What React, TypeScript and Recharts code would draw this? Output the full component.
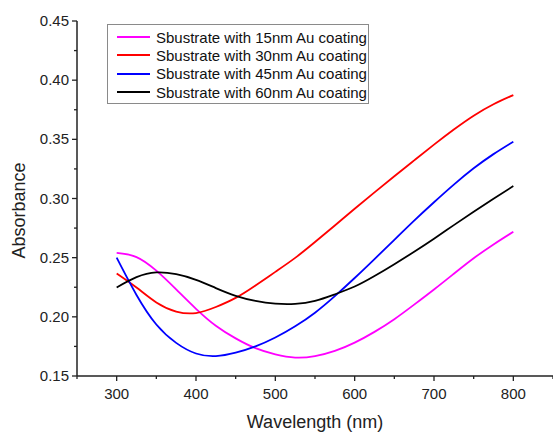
import { LineChart, Line, XAxis, YAxis, usePlotArea } from "recharts";

const wavelengths = [
  300, 325, 350, 375, 400, 425, 450, 475, 500, 525, 550, 575, 600, 625, 650, 675, 700, 725, 750, 775, 800,
];

const au15 = [
  0.254, 0.2505, 0.239, 0.2232, 0.2068, 0.1925, 0.1818, 0.1735, 0.1683, 0.1656, 0.1668, 0.1712, 0.1782,
  0.1873, 0.198, 0.2103, 0.2231, 0.2364, 0.2495, 0.2612, 0.2719,
];
const au30 = [
  0.2367, 0.2248, 0.2122, 0.2045, 0.2032, 0.2083, 0.216, 0.2265, 0.238, 0.2498, 0.2632, 0.2772, 0.2913,
  0.3052, 0.3188, 0.3322, 0.3455, 0.3583, 0.37, 0.3797, 0.3874,
];
const au45 = [
  0.25, 0.2185, 0.1935, 0.178, 0.169, 0.1668, 0.1697, 0.175, 0.1825, 0.192, 0.2035, 0.2175, 0.2328, 0.2488,
  0.2651, 0.2813, 0.2968, 0.3117, 0.3255, 0.3375, 0.348,
];
const au60 = [
  0.2248, 0.2335, 0.2375, 0.236, 0.2313, 0.2243, 0.2178, 0.2135, 0.2112, 0.211, 0.2135, 0.219, 0.2256,
  0.2345, 0.2445, 0.255, 0.266, 0.2775, 0.2888, 0.2998, 0.3105,
];

const xTicks = [250, 300, 350, 400, 450, 500, 550, 600, 650, 700, 750, 800, 850];
const yTicks = [0.15, 0.175, 0.2, 0.225, 0.25, 0.275, 0.3, 0.325, 0.35, 0.375, 0.4, 0.425, 0.45];

const series = [
  { key: "a15", name: "Sbustrate with 15nm Au coating", color: "#ff00ff" },
  { key: "a30", name: "Sbustrate with 30nm Au coating", color: "#ff0000" },
  { key: "a45", name: "Sbustrate with 45nm Au coating", color: "#0000ff" },
  { key: "a60", name: "Sbustrate with 60nm Au coating", color: "#000000" },
];

const rows = wavelengths.map((wl, i) => ({
  wl,
  a15: au15[i],
  a30: au30[i],
  a45: au45[i],
  a60: au60[i],
}));

const FONT = "'Liberation Sans', Arial, sans-serif";
const AXIS = "#222";

function XTick({ x, y, payload }: any) {
  const major = payload.value % 100 === 0;
  return (
    <g>
      <line x1={x} x2={x} y1={y} y2={y + (major ? 5 : 3)} stroke={AXIS} strokeWidth={1.3} />
      {major && (
        <text x={x} y={y + 23} textAnchor="middle" fontSize={15} fontFamily={FONT} fill={AXIS}>
          {payload.value}
        </text>
      )}
    </g>
  );
}

function YTick({ x, y, payload }: any) {
  const major = Math.round(payload.value * 1000) % 50 === 0;
  return (
    <g>
      <line x1={x - (major ? 5 : 3)} x2={x} y1={y} y2={y} stroke={AXIS} strokeWidth={1.3} />
      {major && (
        <text x={x - 8} y={y + 5} textAnchor="end" fontSize={15} fontFamily={FONT} fill={AXIS}>
          {payload.value.toFixed(2)}
        </text>
      )}
    </g>
  );
}

function AxisTitles() {
  const plot = usePlotArea();
  if (!plot) return null;
  const cx = plot.x + plot.width / 2;
  const cy = plot.y + plot.height / 2 + 12;
  return (
    <g fontFamily={FONT} fontSize={18} fill={AXIS}>
      <text x={cx} y={428} textAnchor="middle">
        Wavelength (nm)
      </text>
      <text x={25} y={cy} textAnchor="middle" transform={`rotate(-90 25 ${cy})`}>
        Absorbance
      </text>
    </g>
  );
}

function LegendBox() {
  return (
    <div
      style={{
        position: "absolute",
        left: 107,
        top: 24,
        width: 260,
        height: 75,
        border: "1px solid #8a8a8a",
        background: "#fff",
        boxSizing: "content-box",
        paddingTop: 3,
        fontFamily: FONT,
        fontSize: 15,
        color: "#111",
      }}
    >
      {series.map((s) => (
        <div key={s.key} style={{ display: "flex", alignItems: "center", height: 18.3, whiteSpace: "nowrap" }}>
          <span style={{ display: "inline-block", width: 33, height: 2, background: s.color, marginLeft: 9, marginRight: 6 }} />
          <span>{s.name}</span>
        </div>
      ))}
    </div>
  );
}

export default function App() {
  return (
    <div style={{ position: "absolute", left: 0, top: 0, width: 553, height: 432, background: "#fff" }}>
      <LineChart width={553} height={432} data={rows} margin={{ top: 21, right: 0, bottom: 0, left: 0 }}>
        <XAxis
          dataKey="wl"
          type="number"
          domain={[250, 850]}
          ticks={xTicks}
          interval={0}
          height={56}
          tickSize={0}
          tickMargin={0}
          tick={<XTick />}
          axisLine={{ stroke: AXIS, strokeWidth: 1.5 }}
          tickLine={false}
          allowDataOverflow
        />
        <YAxis
          type="number"
          domain={[0.15, 0.45]}
          ticks={yTicks}
          interval={0}
          width={77}
          tickSize={0}
          tickMargin={0}
          tick={<YTick />}
          axisLine={{ stroke: AXIS, strokeWidth: 1.5 }}
          tickLine={false}
          allowDataOverflow
        />
        {series.map((s) => (
          <Line
            key={s.key}
            type="natural"
            dataKey={s.key}
            name={s.name}
            stroke={s.color}
            strokeWidth={1.8}
            dot={false}
            activeDot={false}
            isAnimationActive={false}
          />
        ))}
        <AxisTitles />
      </LineChart>
      <LegendBox />
    </div>
  );
}
